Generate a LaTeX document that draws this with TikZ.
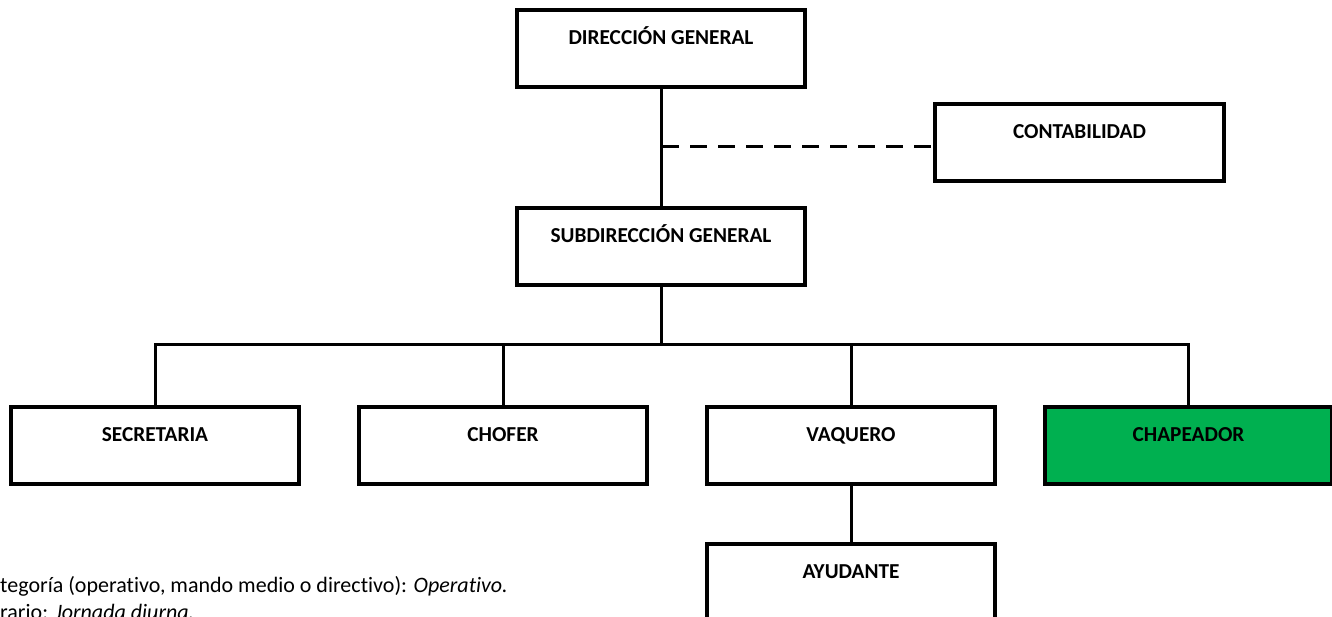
\documentclass[tikz,border=0pt]{standalone}
\usepackage{fontspec}
\setmainfont[RawFeature=-liga]{Carlito}
\definecolor{boxgreen}{HTML}{00B050}
\begin{document}
\begin{tikzpicture}[x=1pt,y=-1pt,
  orgbox/.style={draw=black, line width=4pt, fill=white, rectangle, anchor=north west,
    minimum width=288pt, inner xsep=0pt, inner ysep=0pt,
    text height=34pt, text depth=43pt, align=center,
    font=\fontsize{21.3}{25}\selectfont\bfseries},
  link/.style={draw=black, line width=3pt},
  dlink/.style={link, dash pattern=on 17pt off 11pt},
  note/.style={anchor=base west, inner sep=0pt, font=\fontsize{22}{26}\selectfont}]
\useasboundingbox (0,0) rectangle (1332,616);
\clip (0,0) rectangle (1332,616);
\node[orgbox] (dg) at (515,8) {DIRECCIÓN GENERAL};
\node[orgbox, minimum width=289pt] (cont) at (933,102) {CONTABILIDAD};
\node[orgbox] (sub) at (515,206) {SUBDIRECCIÓN GENERAL};
\node[orgbox] (sec) at (9,405) {SECRETARIA};
\node[orgbox] (chof) at (357,405) {CHOFER};
\node[orgbox] (vaq) at (705,405) {VAQUERO};
\node[orgbox, fill=boxgreen, minimum width=287pt] (chap) at (1043,405) {CHAPEADOR};
\node[orgbox] (ayu) at (705,542) {AYUDANTE};
\coordinate (bar) at (0,344);
\coordinate (dsh) at (662,146);
\draw[link] (dg.south) -- (sub.north);
\draw[dlink] (dsh) -- (dsh -| cont.west);
\draw[link] (sub.south) -- (sub.south |- bar);
\draw[link] (sec.north) -- (sec.north |- bar) -- (chap.north |- bar) -- (chap.north);
\draw[link] (chof.north) -- (chof.north |- bar);
\draw[link] (vaq.north) -- (vaq.north |- bar);
\draw[link] (vaq.south) -- (ayu.north);
\node[note] (n1) at (0,592) {tegoría (operativo, mando medio o directivo): \textit{Operativo.}};
\node[note] (n2) at (0,619) {rario: \textit{Jornada diurna.}};
\end{tikzpicture}
\end{document}
